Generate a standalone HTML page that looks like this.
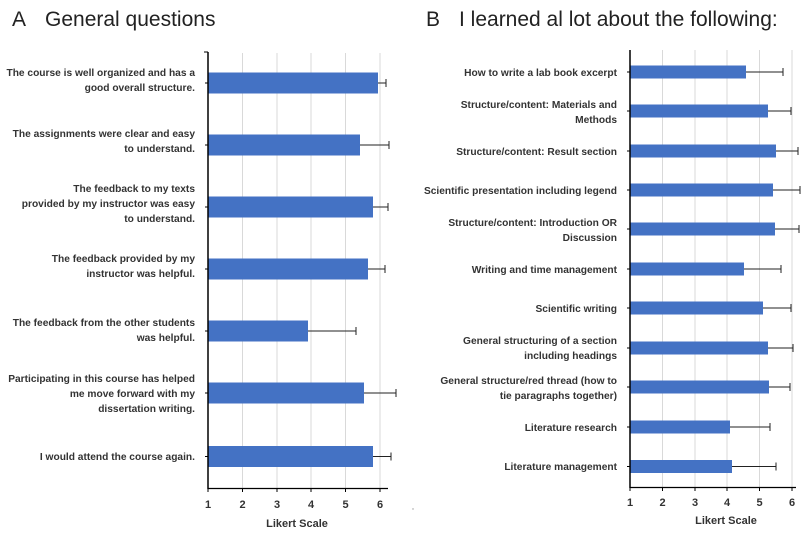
<!DOCTYPE html>
<html><head><meta charset="utf-8"><style>
html,body{margin:0;padding:0;background:#fff;width:805px;height:535px;overflow:hidden}
svg{display:block}
text{font-family:"Liberation Sans",sans-serif}
.l{font-size:10.2px;font-weight:bold;fill:#333;text-anchor:end}
.t{font-size:11px;font-weight:bold;fill:#333;text-anchor:middle}
.g{stroke:#d9d9d9;stroke-width:1}
.b{fill:#4472c4}
.e{stroke:#222;stroke-width:1}
.h{font-size:21px;fill:#222}
</style></head><body>
<svg width="805" height="535" viewBox="0 0 805 535">
<text class="h" x="12" y="26">A</text><text class="h" x="45" y="26">General questions</text>
<text class="h" x="426" y="26">B</text><text class="h" x="459" y="26">I learned al lot about the following:</text>
<!-- Panel A -->
<g>
<line class="g" x1="242.5" y1="53" x2="242.5" y2="488"/>
<line class="g" x1="277" y1="53" x2="277" y2="488"/>
<line class="g" x1="311" y1="53" x2="311" y2="488"/>
<line class="g" x1="345.5" y1="53" x2="345.5" y2="488"/>
<line class="g" x1="380" y1="53" x2="380" y2="488"/>
<rect class="b" x="208" y="72.5" width="170" height="21"/>
<rect class="b" x="208" y="134.5" width="152" height="21"/>
<rect class="b" x="208" y="196.5" width="165" height="21"/>
<rect class="b" x="208" y="258.5" width="160" height="21"/>
<rect class="b" x="208" y="320.5" width="100" height="21"/>
<rect class="b" x="208" y="382.5" width="156" height="21"/>
<rect class="b" x="208" y="446" width="165" height="21"/>
<g class="e">
<line x1="378" y1="83" x2="386" y2="83"/><line x1="386" y1="79" x2="386" y2="87"/>
<line x1="360" y1="145" x2="389" y2="145"/><line x1="389" y1="141" x2="389" y2="149"/>
<line x1="373" y1="207" x2="388" y2="207"/><line x1="388" y1="203" x2="388" y2="211"/>
<line x1="368" y1="269" x2="385" y2="269"/><line x1="385" y1="265" x2="385" y2="273"/>
<line x1="308" y1="331" x2="356" y2="331"/><line x1="356" y1="327" x2="356" y2="335"/>
<line x1="364" y1="393" x2="396" y2="393"/><line x1="396" y1="389" x2="396" y2="397"/>
<line x1="373" y1="456.5" x2="391" y2="456.5"/><line x1="391" y1="452.5" x2="391" y2="460.5"/>
</g>
<line x1="208" y1="52" x2="208" y2="489" stroke="#000" stroke-width="1.5"/>
<line x1="208" y1="488.5" x2="388" y2="488.5" stroke="#000" stroke-width="1.2"/>
<g stroke="#000"><line x1="204" y1="52" x2="208" y2="52"/>
<line x1="205" y1="83" x2="208" y2="83"/><line x1="205" y1="145" x2="208" y2="145"/><line x1="205" y1="207" x2="208" y2="207"/><line x1="205" y1="269" x2="208" y2="269"/><line x1="205" y1="331" x2="208" y2="331"/><line x1="205" y1="393" x2="208" y2="393"/><line x1="205" y1="456.5" x2="208" y2="456.5"/>
<line x1="208" y1="488" x2="208" y2="492"/><line x1="242.5" y1="488" x2="242.5" y2="492"/><line x1="277" y1="488" x2="277" y2="492"/><line x1="311" y1="488" x2="311" y2="492"/><line x1="345.5" y1="488" x2="345.5" y2="492"/><line x1="380" y1="488" x2="380" y2="492"/></g>
<text class="t" x="208" y="508">1</text><text class="t" x="242.5" y="508">2</text><text class="t" x="277" y="508">3</text><text class="t" x="311" y="508">4</text><text class="t" x="345.5" y="508">5</text><text class="t" x="380" y="508">6</text>
<text class="t" x="297" y="527">Likert Scale</text>
<text class="l" x="195" y="76">The course is well organized and has a</text>
<text class="l" x="195" y="91">good overall structure.</text>
<text class="l" x="195" y="137">The assignments were clear and easy</text>
<text class="l" x="195" y="152">to understand.</text>
<text class="l" x="195" y="192">The feedback to my texts</text>
<text class="l" x="195" y="207">provided by my instructor was easy</text>
<text class="l" x="195" y="222">to understand.</text>
<text class="l" x="195" y="262">The feedback provided by my</text>
<text class="l" x="195" y="277">instructor was helpful.</text>
<text class="l" x="195" y="326">The feedback from the other students</text>
<text class="l" x="195" y="341">was helpful.</text>
<text class="l" x="195" y="382">Participating in this course has helped</text>
<text class="l" x="195" y="397">me move forward with my</text>
<text class="l" x="195" y="412">dissertation writing.</text>
<text class="l" x="195" y="460">I would attend the course again.</text>
</g>
<!-- Panel B -->
<g>
<line class="g" x1="662.5" y1="50" x2="662.5" y2="487"/>
<line class="g" x1="695" y1="50" x2="695" y2="487"/>
<line class="g" x1="727" y1="50" x2="727" y2="487"/>
<line class="g" x1="759.5" y1="50" x2="759.5" y2="487"/>
<line class="g" x1="792" y1="50" x2="792" y2="487"/>
<rect class="b" x="630" y="65.5" width="116" height="13"/>
<rect class="b" x="630" y="104.5" width="138" height="13"/>
<rect class="b" x="630" y="144.5" width="146" height="13"/>
<rect class="b" x="630" y="183.5" width="143" height="13"/>
<rect class="b" x="630" y="222.5" width="145" height="13"/>
<rect class="b" x="630" y="262.5" width="114" height="13"/>
<rect class="b" x="630" y="301.5" width="133" height="13"/>
<rect class="b" x="630" y="341.5" width="138" height="13"/>
<rect class="b" x="630" y="380.5" width="139" height="13"/>
<rect class="b" x="630" y="420.5" width="100" height="13"/>
<rect class="b" x="630" y="460" width="102" height="13"/>
<g class="e">
<line x1="746" y1="72" x2="783" y2="72"/><line x1="783" y1="68" x2="783" y2="76"/>
<line x1="768" y1="111" x2="791" y2="111"/><line x1="791" y1="107" x2="791" y2="115"/>
<line x1="776" y1="151" x2="798" y2="151"/><line x1="798" y1="147" x2="798" y2="155"/>
<line x1="773" y1="190" x2="800" y2="190"/><line x1="800" y1="186" x2="800" y2="194"/>
<line x1="775" y1="229" x2="799" y2="229"/><line x1="799" y1="225" x2="799" y2="233"/>
<line x1="744" y1="269" x2="781" y2="269"/><line x1="781" y1="265" x2="781" y2="273"/>
<line x1="763" y1="308" x2="791" y2="308"/><line x1="791" y1="304" x2="791" y2="312"/>
<line x1="768" y1="348" x2="793" y2="348"/><line x1="793" y1="344" x2="793" y2="352"/>
<line x1="769" y1="387" x2="790" y2="387"/><line x1="790" y1="383" x2="790" y2="391"/>
<line x1="730" y1="427" x2="770" y2="427"/><line x1="770" y1="423" x2="770" y2="431"/>
<line x1="732" y1="466.5" x2="776" y2="466.5"/><line x1="776" y1="462.5" x2="776" y2="470.5"/>
</g>
<line x1="630" y1="50" x2="630" y2="488" stroke="#000" stroke-width="1.5"/>
<line x1="630" y1="487.5" x2="796" y2="487.5" stroke="#000" stroke-width="1.2"/>
<g stroke="#000">
<line x1="627" y1="72" x2="630" y2="72"/><line x1="627" y1="111" x2="630" y2="111"/><line x1="627" y1="151" x2="630" y2="151"/><line x1="627" y1="190" x2="630" y2="190"/><line x1="627" y1="229" x2="630" y2="229"/><line x1="627" y1="269" x2="630" y2="269"/><line x1="627" y1="308" x2="630" y2="308"/><line x1="627" y1="348" x2="630" y2="348"/><line x1="627" y1="387" x2="630" y2="387"/><line x1="627" y1="427" x2="630" y2="427"/><line x1="627" y1="466.5" x2="630" y2="466.5"/>
<line x1="630" y1="487" x2="630" y2="491"/><line x1="662.5" y1="487" x2="662.5" y2="491"/><line x1="695" y1="487" x2="695" y2="491"/><line x1="727" y1="487" x2="727" y2="491"/><line x1="759.5" y1="487" x2="759.5" y2="491"/><line x1="792" y1="487" x2="792" y2="491"/></g>
<text class="t" x="630" y="506">1</text><text class="t" x="662.5" y="506">2</text><text class="t" x="695" y="506">3</text><text class="t" x="727" y="506">4</text><text class="t" x="759.5" y="506">5</text><text class="t" x="792" y="506">6</text>
<text class="t" x="726" y="524">Likert Scale</text>
<text class="l" x="617" y="76">How to write a lab book excerpt</text>
<text class="l" x="617" y="108">Structure/content: Materials and</text>
<text class="l" x="617" y="123">Methods</text>
<text class="l" x="617" y="155">Structure/content: Result section</text>
<text class="l" x="617" y="194">Scientific presentation including legend</text>
<text class="l" x="617" y="226">Structure/content: Introduction OR</text>
<text class="l" x="617" y="241">Discussion</text>
<text class="l" x="617" y="273">Writing and time management</text>
<text class="l" x="617" y="312">Scientific writing</text>
<text class="l" x="617" y="344">General structuring of a section</text>
<text class="l" x="617" y="359">including headings</text>
<text class="l" x="617" y="384">General structure/red thread (how to</text>
<text class="l" x="617" y="399">tie paragraphs together)</text>
<text class="l" x="617" y="431">Literature research</text>
<text class="l" x="617" y="470">Literature management</text>
</g>
<circle cx="413" cy="509" r="0.7" fill="#999"/>
</svg>
</body></html>
